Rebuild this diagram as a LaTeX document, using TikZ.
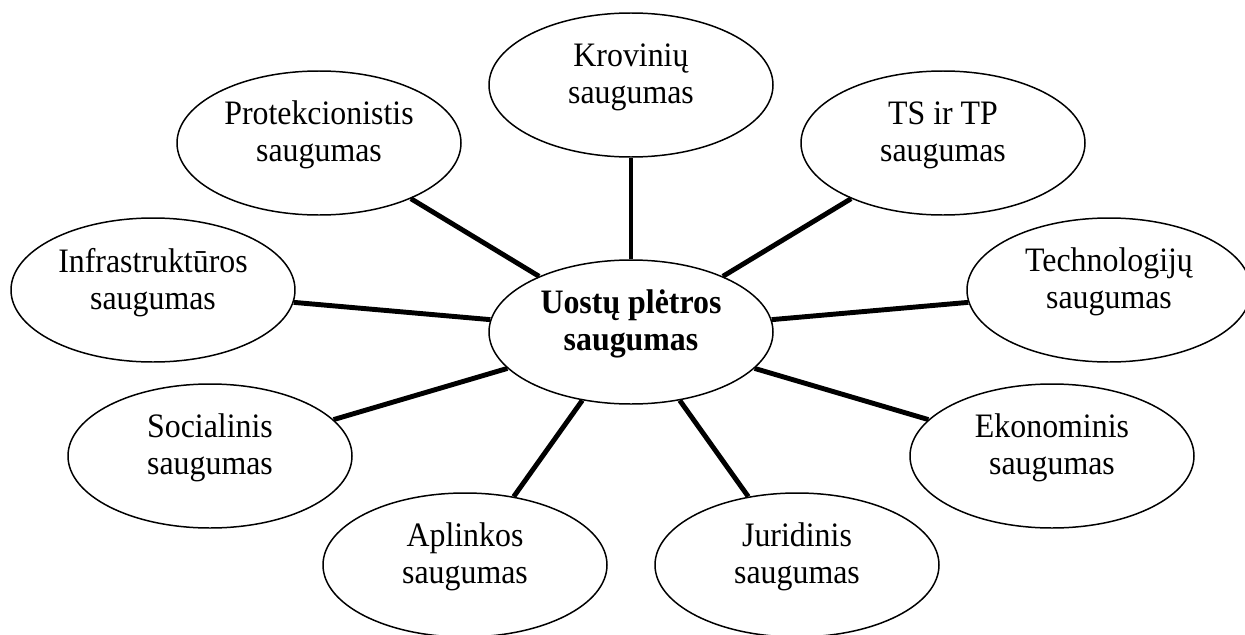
\documentclass[tikz,border=0pt]{standalone}
\usepackage{fontspec}
\setmainfont{Liberation Serif}[FakeStretch=0.93]
\usetikzlibrary{shapes.geometric}

\begin{document}
\begin{tikzpicture}[
    sritis/.style={draw, ellipse, line width=0.85pt, inner sep=0pt,
        minimum width=5.68cm, minimum height=2.88cm, align=center,
        text depth=0.46cm, font=\fontsize{19.5}{21}\selectfont},
    rysys/.style={line width=2.8pt}]
            \useasboundingbox (0,0) rectangle (24.9,-12.7);

            \node[sritis] (uostai) at (12.62,-6.64) {\textbf{Uostų plėtros}\\\textbf{saugumas}};
            \node[sritis] (krov) at (12.62,-1.70) {Krovinių\\saugumas};
            \node[sritis] (prot) at (6.38,-2.86) {Protekcionistis\\saugumas};
            \node[sritis] (tstp) at (18.86,-2.86) {TS ir TP\\saugumas};
            \node[sritis] (infra) at (3.06,-5.80) {Infrastruktūros\\saugumas};
            \node[sritis] (tech) at (22.18,-5.80) {Technologijų\\saugumas};
            \node[sritis] (soc) at (4.20,-9.12) {Socialinis\\saugumas};
            \node[sritis] (eko) at (21.04,-9.12) {Ekonominis\\saugumas};
            \node[sritis] (apl) at (9.30,-11.30) {Aplinkos\\saugumas};
            \node[sritis] (jur) at (15.94,-11.30) {Juridinis\\saugumas};

            \foreach \s in {krov,prot,tstp,infra,tech,soc,eko,apl,jur}
                \draw[rysys] (uostai) -- (\s);
        \end{tikzpicture}
\end{document}
